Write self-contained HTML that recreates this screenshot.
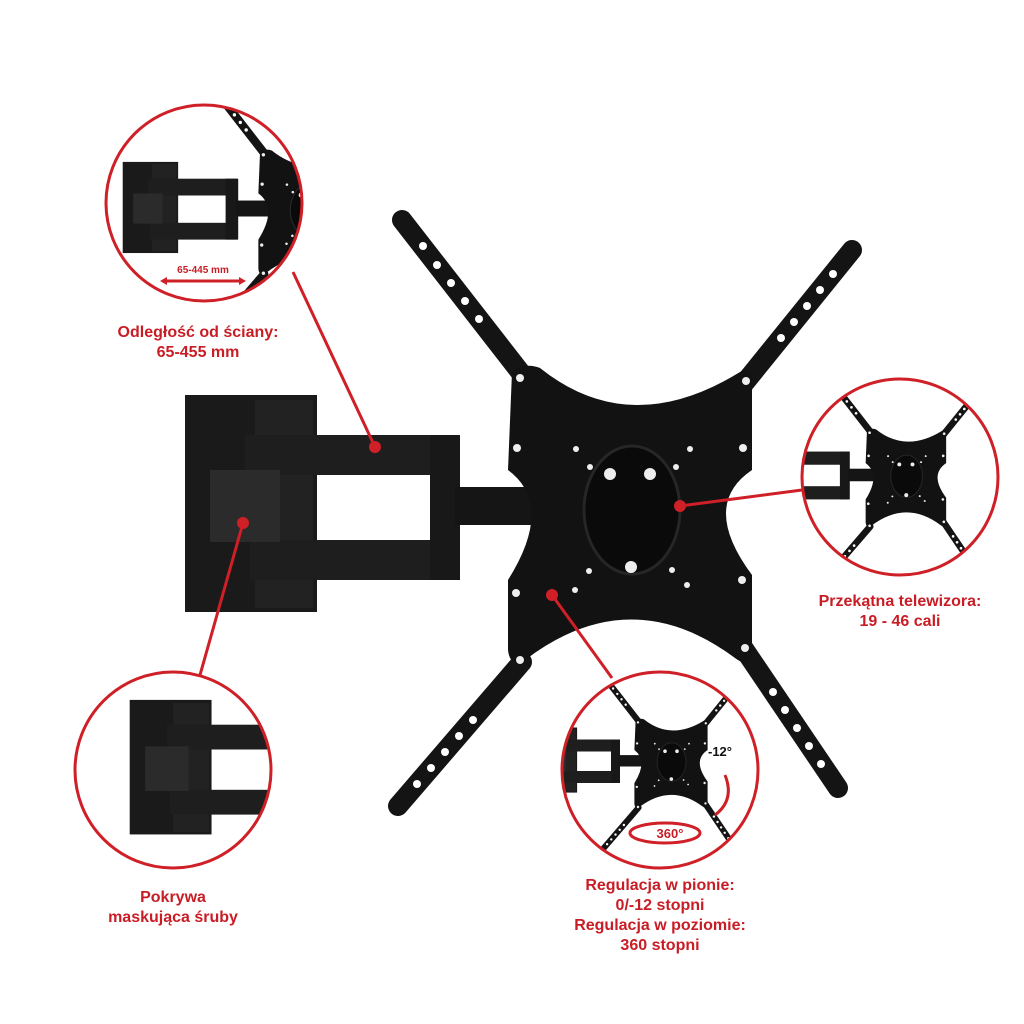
<!DOCTYPE html>
<html><head><meta charset="utf-8"><style>
body{margin:0;background:#fff;width:1024px;height:1024px;overflow:hidden}
svg{display:block}
text{font-family:"Liberation Sans",sans-serif;font-weight:bold;fill:#c81d25;text-anchor:middle}
</style></head><body>
<svg width="1024" height="1024" viewBox="0 0 1024 1024">
<defs>
<g id="m">
  <rect x="185" y="395" width="132" height="217" fill="#1a1a1a"/>
  <rect x="255" y="400" width="58" height="208" fill="#222"/>
  <rect x="245" y="435" width="212" height="40" fill="#1e1e1e"/>
  <rect x="250" y="540" width="207" height="40" fill="#1e1e1e"/>
  <rect x="210" y="470" width="70" height="72" fill="#2b2b2b"/>
  <rect x="430" y="435" width="30" height="145" fill="#181818"/>
  <rect x="455" y="487" width="110" height="38" fill="#151515"/>
  <g stroke="#141414" stroke-width="20" stroke-linecap="round">
    <line x1="402" y1="220" x2="528" y2="382"/>
    <line x1="852" y1="250" x2="742" y2="386"/>
    <line x1="398" y1="806" x2="522" y2="662"/>
    <line x1="838" y1="788" x2="742" y2="646"/>
  </g>
  <g fill="#fff">
    <circle cx="423" cy="246" r="4"/><circle cx="437" cy="265" r="4"/><circle cx="451" cy="283" r="4"/><circle cx="465" cy="301" r="4"/><circle cx="479" cy="319" r="4"/>
    <circle cx="833" cy="274" r="4"/><circle cx="820" cy="290" r="4"/><circle cx="807" cy="306" r="4"/><circle cx="794" cy="322" r="4"/><circle cx="781" cy="338" r="4"/>
    <circle cx="417" cy="784" r="4"/><circle cx="431" cy="768" r="4"/><circle cx="445" cy="752" r="4"/><circle cx="459" cy="736" r="4"/><circle cx="473" cy="720" r="4"/>
    <circle cx="821" cy="764" r="4"/><circle cx="809" cy="746" r="4"/><circle cx="797" cy="728" r="4"/><circle cx="785" cy="710" r="4"/><circle cx="773" cy="692" r="4"/>
  </g>
  <path d="M512,372 Q525,362 540,368 Q630,440 740,372 Q752,366 752,382 L752,470 Q700,505 752,575 L752,655 Q748,668 735,658 Q630,580 525,660 Q510,668 508,650 L508,580 Q555,505 508,470 Z" fill="#121212"/>
  <ellipse cx="632" cy="510" rx="48" ry="64" fill="#0a0a0a" stroke="#262626" stroke-width="3"/>
  <g fill="#eee">
    <circle cx="610" cy="474" r="6"/><circle cx="650" cy="474" r="6"/><circle cx="631" cy="567" r="6"/>
    <circle cx="517" cy="448" r="4"/><circle cx="576" cy="449" r="3"/><circle cx="590" cy="467" r="3"/><circle cx="676" cy="467" r="3"/><circle cx="690" cy="449" r="3"/><circle cx="743" cy="448" r="4"/>
    <circle cx="516" cy="593" r="4"/><circle cx="575" cy="590" r="3"/><circle cx="589" cy="571" r="3"/><circle cx="672" cy="570" r="3"/><circle cx="687" cy="585" r="3"/><circle cx="742" cy="580" r="4"/>
    <circle cx="520" cy="378" r="4"/><circle cx="746" cy="381" r="4"/><circle cx="520" cy="660" r="4"/><circle cx="745" cy="648" r="4"/>
  </g>
</g>
<clipPath id="c1"><circle cx="204" cy="203" r="98"/></clipPath>
<clipPath id="c2"><circle cx="900" cy="477" r="98"/></clipPath>
<clipPath id="c3"><circle cx="173" cy="770" r="98"/></clipPath>
<clipPath id="c4"><circle cx="660" cy="770" r="98"/></clipPath>
</defs>

<use href="#m"/>

<g clip-path="url(#c1)"><use href="#m" transform="translate(45,-4) scale(0.42)"/></g>
<g clip-path="url(#c2)"><use href="#m" transform="translate(698,308) scale(0.33)"/></g>
<g clip-path="url(#c3)"><use href="#m" transform="translate(15,455) scale(0.62)"/></g>
<g clip-path="url(#c4)"><use href="#m" transform="translate(482,609) scale(0.3)"/></g>

<g fill="none" stroke="#cf1f27" stroke-width="3">
  <circle cx="204" cy="203" r="98"/>
  <circle cx="900" cy="477" r="98"/>
  <circle cx="173" cy="770" r="98"/>
  <circle cx="660" cy="770" r="98"/>
</g>
<g stroke="#cf1f27" stroke-width="3">
  <line x1="375" y1="447" x2="293" y2="272"/>
  <line x1="243" y1="523" x2="200" y2="675"/>
  <line x1="680" y1="506" x2="802" y2="490"/>
  <line x1="552" y1="595" x2="612" y2="678"/>
  <line x1="163" y1="281" x2="243" y2="281"/>
</g>
<g fill="#cf1f27">
  <circle cx="375" cy="447" r="6"/><circle cx="243" cy="523" r="6"/><circle cx="680" cy="506" r="6"/><circle cx="552" cy="595" r="6"/>
  <path d="M160,281 l7,-4 v8z"/><path d="M246,281 l-7,-4 v8z"/>
</g>
<path d="M725,775 Q735,800 715,815" fill="none" stroke="#cf1f27" stroke-width="3"/>
<ellipse cx="665" cy="833" rx="35" ry="10" fill="none" stroke="#cf1f27" stroke-width="3"/>
<text x="203" y="273" font-size="10">65-445 mm</text>
<text x="720" y="756" font-size="13" style="fill:#111">-12°</text>
<text x="670" y="838" font-size="13">360°</text>

<g font-size="16">
<text x="198" y="337">Odległość od ściany:</text>
<text x="198" y="357">65-455 mm</text>
<text x="900" y="606">Przekątna telewizora:</text>
<text x="900" y="626">19 - 46 cali</text>
<text x="173" y="902">Pokrywa</text>
<text x="173" y="922">maskująca śruby</text>
<text x="660" y="890">Regulacja w pionie:</text>
<text x="660" y="910">0/-12 stopni</text>
<text x="660" y="930">Regulacja w poziomie:</text>
<text x="660" y="950">360 stopni</text>
</g>
</svg>
</body></html>
